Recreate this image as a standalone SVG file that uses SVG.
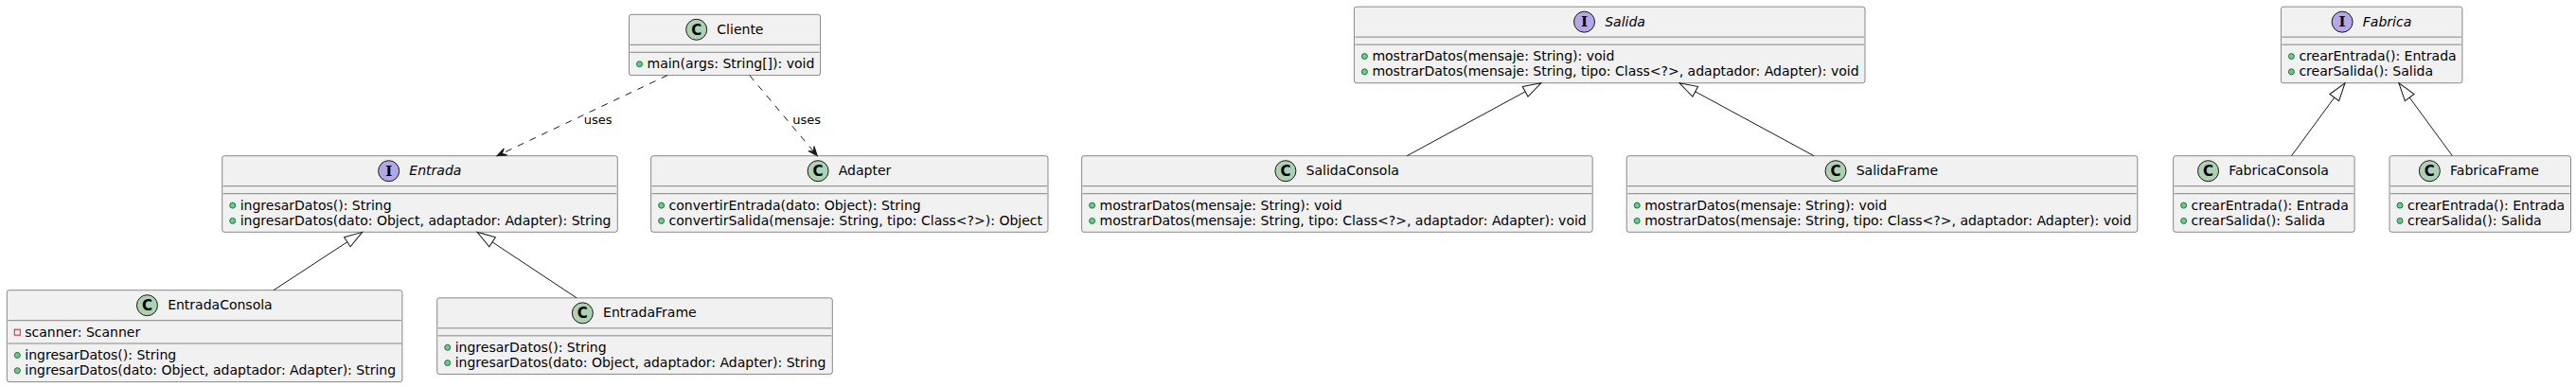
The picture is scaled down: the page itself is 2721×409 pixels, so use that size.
<svg xmlns="http://www.w3.org/2000/svg" width="2721" height="409" viewBox="0 0 2721 409">
<style>
.box{fill:#F1F1F1;stroke:#181818;stroke-width:0.5}
.sep{stroke:#181818;stroke-width:0.5}
.cls{fill:#ADD1B2;stroke:#181818;stroke-width:1}
.itf{fill:#B4A7E5;stroke:#181818;stroke-width:1}
.ltr{font-family:"DejaVu Sans",sans-serif;font-size:15px;font-weight:bold;fill:#000;text-anchor:middle}
.ltri{font-family:"DejaVu Serif",serif;font-size:15px;font-weight:bold;fill:#000;text-anchor:middle}
.name{font-family:"DejaVu Sans",sans-serif;font-size:14px;fill:#000}
.iname{font-family:"DejaVu Sans",sans-serif;font-size:14px;font-style:italic;fill:#000}
.mem{font-family:"DejaVu Sans",sans-serif;font-size:14px;fill:#000}
.pub{fill:#84BE84;stroke:#038048;stroke-width:1}
.priv{fill:none;stroke:#C82930;stroke-width:1}
.edge{fill:none;stroke:#181818;stroke-width:1}
.dash{stroke-dasharray:7,7}
.lbl{font-family:"DejaVu Sans",sans-serif;font-size:13px;fill:#000}
</style>
<defs>
<marker id="ext" markerUnits="userSpaceOnUse" viewBox="-21 -8 23 16" markerWidth="23" markerHeight="16" refX="0" refY="0" orient="auto" overflow="visible">
<path d="M-19,-6 L0,0 L-19,6 Z" fill="#FFFFFF" stroke="#181818" stroke-width="1"/>
</marker>
<marker id="dep" markerUnits="userSpaceOnUse" viewBox="-12 -6 14 12" markerWidth="14" markerHeight="12" refX="0" refY="0" orient="auto" overflow="visible">
<path d="M-10,-4 L0,0 L-10,4 L-6,0 Z" fill="#181818" stroke="#181818" stroke-width="1" stroke-dasharray="none"/>
</marker>
</defs>
<rect x="0" y="0" width="2721" height="409" fill="#FFFFFF"/>

<g id="Cliente">
<rect class="box" x="664.5" y="15.3" width="202.1" height="64.3" rx="2.5" ry="2.5"/>
<circle class="cls" cx="735.65" cy="31.3" r="11"/>
<text class="ltr" x="735.65" y="36.6">C</text>
<text class="name" x="757.35" y="35.8">Cliente</text>
<line class="sep" x1="665.5" y1="47.3" x2="865.6" y2="47.3"/>
<line class="sep" x1="665.5" y1="55.3" x2="865.6" y2="55.3"/>
<circle class="pub" cx="675.5" cy="67.7" r="3"/>
<text class="mem" x="683.5" y="72.3">main(args: String[]): void</text>
</g>

<g id="Entrada">
<rect class="box" x="234.7" y="164.7" width="417.6" height="80.6" rx="2.5" ry="2.5"/>
<circle class="itf" cx="410.65" cy="180.7" r="11"/>
<text class="ltri" x="410.65" y="186">I</text>
<text class="iname" x="432.35" y="185.2">Entrada</text>
<line class="sep" x1="235.7" y1="196.7" x2="651.3" y2="196.7"/>
<line class="sep" x1="235.7" y1="204.7" x2="651.3" y2="204.7"/>
<circle class="pub" cx="245.7" cy="217.1" r="3"/>
<text class="mem" x="253.7" y="221.7">ingresarDatos(): String</text>
<circle class="pub" cx="245.7" cy="233.4" r="3"/>
<text class="mem" x="253.7" y="238">ingresarDatos(dato: Object, adaptador: Adapter): String</text>
</g>

<g id="Adapter">
<rect class="box" x="687.6" y="164.7" width="419.4" height="80.6" rx="2.5" ry="2.5"/>
<circle class="cls" cx="864.05" cy="180.7" r="11"/>
<text class="ltr" x="864.05" y="186">C</text>
<text class="name" x="885.75" y="185.2">Adapter</text>
<line class="sep" x1="688.6" y1="196.7" x2="1106" y2="196.7"/>
<line class="sep" x1="688.6" y1="204.7" x2="1106" y2="204.7"/>
<circle class="pub" cx="698.6" cy="217.1" r="3"/>
<text class="mem" x="706.6" y="221.7">convertirEntrada(dato: Object): String</text>
<circle class="pub" cx="698.6" cy="233.4" r="3"/>
<text class="mem" x="706.6" y="238">convertirSalida(mensaje: String, tipo: Class&lt;?&gt;): Object</text>
</g>

<g id="EntradaConsola">
<rect class="box" x="7.3" y="306.7" width="417.6" height="96.9" rx="2.5" ry="2.5"/>
<circle class="cls" cx="155.45" cy="322.7" r="11"/>
<text class="ltr" x="155.45" y="328">C</text>
<text class="name" x="177.15" y="327.2">EntradaConsola</text>
<line class="sep" x1="8.3" y1="338.7" x2="423.9" y2="338.7"/>
<rect class="priv" x="15.3" y="348.2" width="6" height="6"/>
<text class="mem" x="26.3" y="355.7">scanner: Scanner</text>
<line class="sep" x1="8.3" y1="363" x2="423.9" y2="363"/>
<circle class="pub" cx="18.3" cy="375.4" r="3"/>
<text class="mem" x="26.3" y="380">ingresarDatos(): String</text>
<circle class="pub" cx="18.3" cy="391.7" r="3"/>
<text class="mem" x="26.3" y="396.3">ingresarDatos(dato: Object, adaptador: Adapter): String</text>
</g>

<g id="EntradaFrame">
<rect class="box" x="461.7" y="314.85" width="417.6" height="80.6" rx="2.5" ry="2.5"/>
<circle class="cls" cx="615.35" cy="330.85" r="11"/>
<text class="ltr" x="615.35" y="336.15">C</text>
<text class="name" x="637.05" y="335.35">EntradaFrame</text>
<line class="sep" x1="462.7" y1="346.85" x2="878.3" y2="346.85"/>
<line class="sep" x1="462.7" y1="354.85" x2="878.3" y2="354.85"/>
<circle class="pub" cx="472.7" cy="367.25" r="3"/>
<text class="mem" x="480.7" y="371.85">ingresarDatos(): String</text>
<circle class="pub" cx="472.7" cy="383.55" r="3"/>
<text class="mem" x="480.7" y="388.15">ingresarDatos(dato: Object, adaptador: Adapter): String</text>
</g>

<g id="Salida">
<rect class="box" x="1430.4" y="7.15" width="539.6" height="80.6" rx="2.5" ry="2.5"/>
<circle class="itf" cx="1673.5" cy="23.15" r="11"/>
<text class="ltri" x="1673.5" y="28.45">I</text>
<text class="iname" x="1695.2" y="27.65">Salida</text>
<line class="sep" x1="1431.4" y1="39.15" x2="1969" y2="39.15"/>
<line class="sep" x1="1431.4" y1="47.15" x2="1969" y2="47.15"/>
<circle class="pub" cx="1441.4" cy="59.55" r="3"/>
<text class="mem" x="1449.4" y="64.15">mostrarDatos(mensaje: String): void</text>
<circle class="pub" cx="1441.4" cy="75.85" r="3"/>
<text class="mem" x="1449.4" y="80.45">mostrarDatos(mensaje: String, tipo: Class&lt;?&gt;, adaptador: Adapter): void</text>
</g>

<g id="SalidaConsola">
<rect class="box" x="1142.6" y="164.7" width="539.6" height="80.6" rx="2.5" ry="2.5"/>
<circle class="cls" cx="1357.9" cy="180.7" r="11"/>
<text class="ltr" x="1357.9" y="186">C</text>
<text class="name" x="1379.6" y="185.2">SalidaConsola</text>
<line class="sep" x1="1143.6" y1="196.7" x2="1681.2" y2="196.7"/>
<line class="sep" x1="1143.6" y1="204.7" x2="1681.2" y2="204.7"/>
<circle class="pub" cx="1153.6" cy="217.1" r="3"/>
<text class="mem" x="1161.6" y="221.7">mostrarDatos(mensaje: String): void</text>
<circle class="pub" cx="1153.6" cy="233.4" r="3"/>
<text class="mem" x="1161.6" y="238">mostrarDatos(mensaje: String, tipo: Class&lt;?&gt;, adaptador: Adapter): void</text>
</g>

<g id="SalidaFrame">
<rect class="box" x="1718.2" y="164.7" width="539.6" height="80.6" rx="2.5" ry="2.5"/>
<circle class="cls" cx="1939" cy="180.7" r="11"/>
<text class="ltr" x="1939" y="186">C</text>
<text class="name" x="1960.7" y="185.2">SalidaFrame</text>
<line class="sep" x1="1719.2" y1="196.7" x2="2256.8" y2="196.7"/>
<line class="sep" x1="1719.2" y1="204.7" x2="2256.8" y2="204.7"/>
<circle class="pub" cx="1729.2" cy="217.1" r="3"/>
<text class="mem" x="1737.2" y="221.7">mostrarDatos(mensaje: String): void</text>
<circle class="pub" cx="1729.2" cy="233.4" r="3"/>
<text class="mem" x="1737.2" y="238">mostrarDatos(mensaje: String, tipo: Class&lt;?&gt;, adaptador: Adapter): void</text>
</g>

<g id="Fabrica">
<rect class="box" x="2409.4" y="7.15" width="191.5" height="80.6" rx="2.5" ry="2.5"/>
<circle class="itf" cx="2474.1" cy="23.15" r="11"/>
<text class="ltri" x="2474.1" y="28.45">I</text>
<text class="iname" x="2495.8" y="27.65">Fabrica</text>
<line class="sep" x1="2410.4" y1="39.15" x2="2599.9" y2="39.15"/>
<line class="sep" x1="2410.4" y1="47.15" x2="2599.9" y2="47.15"/>
<circle class="pub" cx="2420.4" cy="59.55" r="3"/>
<text class="mem" x="2428.4" y="64.15">crearEntrada(): Entrada</text>
<circle class="pub" cx="2420.4" cy="75.85" r="3"/>
<text class="mem" x="2428.4" y="80.45">crearSalida(): Salida</text>
</g>

<g id="FabricaConsola">
<rect class="box" x="2295.6" y="164.7" width="191.5" height="80.6" rx="2.5" ry="2.5"/>
<circle class="cls" cx="2332.5" cy="180.7" r="11"/>
<text class="ltr" x="2332.5" y="186">C</text>
<text class="name" x="2354.2" y="185.2">FabricaConsola</text>
<line class="sep" x1="2296.6" y1="196.7" x2="2486.1" y2="196.7"/>
<line class="sep" x1="2296.6" y1="204.7" x2="2486.1" y2="204.7"/>
<circle class="pub" cx="2306.6" cy="217.1" r="3"/>
<text class="mem" x="2314.6" y="221.7">crearEntrada(): Entrada</text>
<circle class="pub" cx="2306.6" cy="233.4" r="3"/>
<text class="mem" x="2314.6" y="238">crearSalida(): Salida</text>
</g>

<g id="FabricaFrame">
<rect class="box" x="2524" y="164.7" width="191.5" height="80.6" rx="2.5" ry="2.5"/>
<circle class="cls" cx="2566.35" cy="180.7" r="11"/>
<text class="ltr" x="2566.35" y="186">C</text>
<text class="name" x="2588.05" y="185.2">FabricaFrame</text>
<line class="sep" x1="2525" y1="196.7" x2="2714.5" y2="196.7"/>
<line class="sep" x1="2525" y1="204.7" x2="2714.5" y2="204.7"/>
<circle class="pub" cx="2535" cy="217.1" r="3"/>
<text class="mem" x="2543" y="221.7">crearEntrada(): Entrada</text>
<circle class="pub" cx="2535" cy="233.4" r="3"/>
<text class="mem" x="2543" y="238">crearSalida(): Salida</text>
</g>

<g id="connectors">
<path class="edge dash" d="M705,79.6 L525,164.7" marker-end="url(#dep)"/>
<text class="lbl" x="616.7" y="131">uses</text>
<path class="edge dash" d="M791.7,79.6 L863.3,164.7" marker-end="url(#dep)"/>
<text class="lbl" x="837.3" y="131">uses</text>
<path class="edge" d="M289,306.7 L382.7,245.3" marker-end="url(#ext)"/>
<path class="edge" d="M609.1,314.85 L504.2,245.3" marker-end="url(#ext)"/>
<path class="edge" d="M1486.2,164.7 L1627.8,87.75" marker-end="url(#ext)"/>
<path class="edge" d="M1916,164.7 L1774,87.75" marker-end="url(#ext)"/>
<path class="edge" d="M2420.5,164.7 L2477,87.75" marker-end="url(#ext)"/>
<path class="edge" d="M2590.4,164.7 L2533.9,87.75" marker-end="url(#ext)"/>
</g>
</svg>
